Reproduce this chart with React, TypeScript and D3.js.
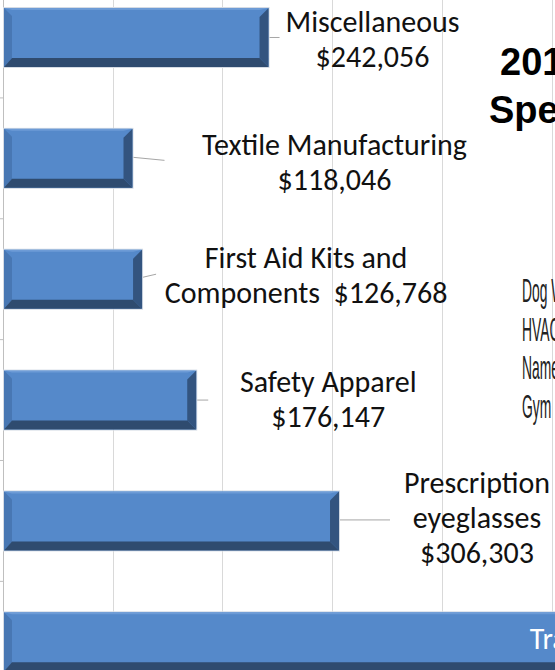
import React from "react";
import * as d3 from "d3";

// ---- data ----
const categories = [
  "Miscellaneous",
  "Textile Manufacturing",
  "First Aid Kits and Components",
  "Safety Apparel",
  "Prescription eyeglasses",
  "Transportation",
];
const values = [242056, 118046, 126768, 176147, 306303, 1260000];
const labelLines = [
  ["Miscellaneous"],
  ["Textile Manufacturing"],
  ["First Aid Kits and", "Components"],
  ["Safety Apparel"],
  ["Prescription", "eyeglasses"],
  ["Transportation"],
];
const valueSameLine = [false, false, true, false, false, true];
const xTicks = [0, 100000, 200000, 300000, 400000, 500000];
const titleLines = ["2015 Contract", "Spending"];
const sideItems = ["Dog Waste Bags", "HVAC", "Name Badges", "Gym Equipment"];

// ---- layout (not data) ----
const W = 555;
const H = 670;
const labelLayout = [
  { dx: 104, dy: -5.5, lx: 11, ly0: 0, ly1: 0, inside: false },
  { dx: 202, dy: -3, lx: 32, ly0: -1, ly1: 2, inside: false },
  { dx: 164, dy: -11, lx: 14, ly0: -2, ly1: -5, inside: false },
  { dx: 132, dy: -8, lx: 12, ly0: 0, ly1: 0, inside: false },
  { dx: 138, dy: -28, lx: 51, ly0: -1, ly1: -1, inside: false },
  { dx: 0, dy: 7, lx: 0, ly0: 0, ly1: 0, inside: true },
];

const fmt = d3.format("$,");

const LABEL_FONT = "Carlito, Lato, 'Open Sans', sans-serif";
const LABEL_SIZE = 30;

function Bevel({ x0, x1, y0, y1 }: { x0: number; x1: number; y0: number; y1: number }) {
  const b = 9;
  const bl = 8;
  const pts = (a: number[][]) => a.map((p) => p.join(",")).join(" ");
  return (
    <g>
      <rect x={x0 - 0.5} y={y0 - 0.5} width={x1 - x0 + 1} height={y1 - y0 + 1} fill="none" stroke="#d5dbe4" strokeWidth={1} />
      <rect x={x0} y={y0} width={x1 - x0} height={y1 - y0} fill="#5589ca" />
      <polygon points={pts([[x0, y0], [x1, y0], [x1 - b, y0 + 2], [x0 + bl, y0 + 2]])} fill="#6d9bd6" />
      <polygon points={pts([[x0, y0], [x0 + bl, y0 + bl], [x0 + bl, y1 - b], [x0, y1]])} fill="#4877b3" />
      <polygon points={pts([[x1, y0], [x1, y1], [x1 - b, y1 - b], [x1 - b, y0 + b]])} fill="#33547f" />
      <polygon points={pts([[x0, y1], [x0 + bl, y1 - b], [x1 - b, y1 - b], [x1, y1]])} fill="#2f4b6f" />
    </g>
  );
}

export default function App() {
  const x = d3.scaleLinear().domain([0, 500000]).range([3, 3 + 5 * 109.7]);
  const step = 120.86;
  const p = 0.512;
  const r0 = 8 - step * (p / 2);
  const y = d3
    .scaleBand<string>()
    .domain(categories)
    .range([r0, r0 + step * categories.length])
    .paddingInner(p)
    .paddingOuter(p / 2);
  const bw = y.bandwidth();
  const lineH = 35;

  return (
    <svg
      width={W}
      height={H}
      style={{ position: "absolute", left: 0, top: 0, background: "#fff" }}
    >
      <rect width={W} height={H} fill="#fff" />
      {/* gridlines */}
      {xTicks.map((t) => (
        <line key={t} x1={Math.round(x(t)) + 0.5} x2={Math.round(x(t)) + 0.5} y1={0} y2={H} stroke="#d9d9d9" strokeWidth={1} />
      ))}
      {/* category axis */}
      <line x1={3.5} x2={3.5} y1={0} y2={H} stroke="#bfbfbf" />
      {categories.map((c) => {
        const yy = (y(c) as number) - (step * p) / 2;
        return <line key={c} x1={0} x2={3} y1={yy} y2={yy} stroke="#bfbfbf" />;
      })}
      {/* bars */}
      {categories.map((c, i) => {
        const y0 = y(c) as number;
        return <Bevel key={c} x0={x(0) + 1} x1={x(values[i])} y0={y0} y1={y0 + bw} />;
      })}
      {/* leader lines + labels */}
      {categories.map((c, i) => {
        const L = labelLayout[i];
        const xe = x(values[i]);
        const yc = (y(c) as number) + bw / 2;
        const lines = labelLines[i].slice();
        if (valueSameLine[i]) lines[lines.length - 1] = lines[lines.length - 1] + "  " + fmt(values[i]);
        else lines.push(fmt(values[i]));
        if (L.inside) {
          return (
            <text key={c} x={(x(0) + xe) / 2} y={yc + L.dy} textAnchor="middle" fontFamily={LABEL_FONT} fontSize={LABEL_SIZE} fill="#fff" style={{ whiteSpace: "pre" }}>
              {lines.join(" ")}
            </text>
          );
        }
        return (
          <g key={c}>
            <line x1={xe + 1} y1={yc + L.ly0} x2={xe + L.lx} y2={yc + L.ly1} stroke="#a6a6a6" strokeWidth={1} />
            {lines.map((ln, k) => (
              <text key={k} x={xe + L.dx} y={yc + L.dy + k * lineH} textAnchor="middle" fontFamily={LABEL_FONT} fontSize={LABEL_SIZE} fill="#111" style={{ whiteSpace: "pre" }}>
                {ln}
              </text>
            ))}
          </g>
        );
      })}
      {/* title (cropped) */}
      <text x={500} y={75} fontFamily="'Liberation Sans', Arial, sans-serif" fontWeight="bold" fontSize={38} fill="#000">
        {titleLines[0]}
      </text>
      <text x={489} y={123} fontFamily="'Liberation Sans', Arial, sans-serif" fontWeight="bold" fontSize={38} fill="#000">
        {titleLines[1]}
      </text>
      {/* side list (condensed) */}
      {sideItems.map((s, i) => (
        <text key={s} transform={`translate(522, ${302 + i * 38.5}) scale(0.42, 1)`} fontFamily="'Liberation Sans', Arial, sans-serif" fontSize={33} fill="#222">
          {s}
        </text>
      ))}
    </svg>
  );
}
